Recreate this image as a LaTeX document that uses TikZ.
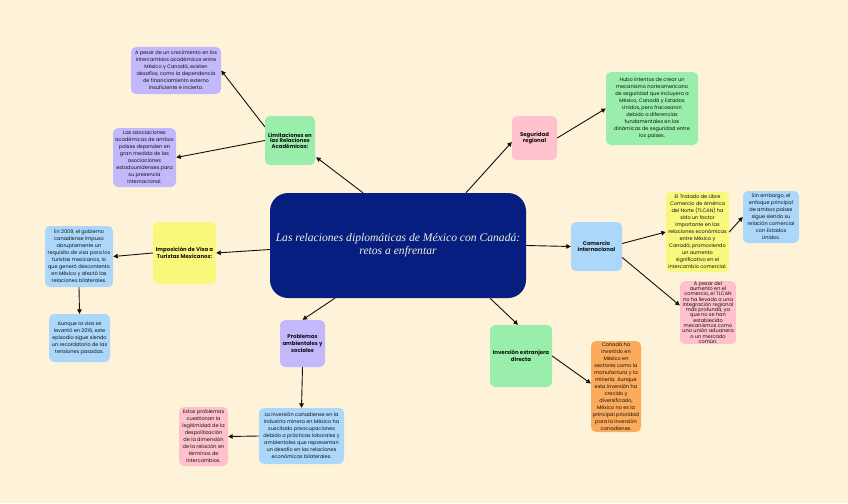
\documentclass[tikz,border=0pt]{standalone}
\usepackage{fontspec}
\newfontfamily\boxfont{Poppins}
\newfontfamily\titlefont{Liberation Serif}
\usetikzlibrary{arrows.meta}
\definecolor{paper}{HTML}{FEF3D8}
\definecolor{ink}{HTML}{111111}
\definecolor{navy}{HTML}{061E80}
\definecolor{cream}{HTML}{F6EFDC}
\definecolor{lilac}{HTML}{C3B8FC}
\definecolor{mint}{HTML}{98EEAA}
\definecolor{rose}{HTML}{FFC2CC}
\definecolor{lemon}{HTML}{F9F87C}
\definecolor{sky}{HTML}{ABD7FB}
\definecolor{peach}{HTML}{FCAA5B}
\tikzset{
  every node/.style={font=\boxfont\fontsize{5}{7}\selectfont, text=ink},
  box/.style={rounded corners=5pt, align=center, inner sep=0pt},
  topic/.style={box, font=\boxfont\bfseries\fontsize{5.4}{5.6}\selectfont},
  lilacbox/.style={box, fill=lilac},
  mintbox/.style={box, fill=mint},
  rosebox/.style={box, fill=rose},
  lemonbox/.style={box, fill=lemon},
  skybox/.style={box, fill=sky},
  peachbox/.style={box, fill=peach},
  arr/.style={-{Triangle[length=4.5pt,width=4.5pt]}, draw=ink, line width=0.9pt},
}

\begin{document}
\begin{tikzpicture}[x=1pt,y=-1pt]
  \fill[paper] (0,0) rectangle (848,503);
  \useasboundingbox (0,0) rectangle (848,503);

  % central topic
  \node[box, fill=navy, rounded corners=18pt, minimum width=256pt, minimum height=105pt,
        font=\titlefont\itshape\fontsize{11.6}{13}\selectfont, text=cream] (central) at (398,245.5)
        {Las relaciones diplomáticas de México con Canadá:\\retos a enfrentar};

  % --- upper left: academic relations ------------------------------------
  \node[topic, fill=mint, minimum width=50pt, minimum height=49pt] (lim) at (290,140.5)
        {Limitaciones en\\las Relaciones\\Académicas:};
  \node[lilacbox, minimum width=90pt, minimum height=47pt] (acadA) at (176,70.5)
        {A pesar de un crecimiento en los\\intercambios académicos entre\\México y Canadá, existen\\desafíos, como la dependencia\\de financiamiento externo\\insuficiente e incierto.};
  \node[lilacbox, minimum width=63pt, minimum height=59pt] (acadB) at (144.5,157.5)
        {Las asociaciones\\académicas de ambos\\países dependen en\\gran medida de las\\asociaciones\\estadounidenses para\\su presencia\\internacional.};

  % --- upper right: security ---------------------------------------------
  \node[topic, fill=rose, minimum width=45pt, minimum height=44pt] (seg) at (534.5,138)
        {Seguridad\\regional};
  \node[mintbox, minimum width=92pt, minimum height=73pt] (secu) at (652,108.5)
        {Hubo intentos de crear un\\mecanismo norteamericano\\de seguridad que incluyera a\\México, Canadá y Estados\\Unidos, pero fracasaron\\debido a diferencias\\fundamentales en las\\dinámicas de seguridad entre\\los países.};

  % --- right: trade --------------------------------------------------------
  \node[topic, fill=sky, minimum width=51pt, minimum height=49pt] (com) at (596.5,246.5)
        {Comercio\\internacional};
  \node[lemonbox, minimum width=63pt, minimum height=80pt] (tlcan) at (697.5,232)
        {El Tratado de Libre\\Comercio de América\\del Norte (TLCAN) ha\\sido un factor\\importante en las\\relaciones económicas\\entre México y\\Canadá, promoviendo\\un aumento\\significativo en el\\intercambio comercial.};
  \node[skybox, minimum width=56pt, minimum height=52pt] (usa) at (771,217)
        {Sin embargo, el\\enfoque principal\\de ambos países\\sigue siendo su\\relación comercial\\con Estados\\Unidos.};
  \node[rosebox, minimum width=56pt, minimum height=63pt, font=\boxfont\fontsize{5}{5.3}\selectfont] (integ) at (708,312.5)
        {A pesar del\\aumento en el\\comercio, el TLCAN\\no ha llevado a una\\integración regional\\más profunda, ya\\que no se han\\establecido\\mecanismos como\\una unión aduanera\\o un mercado\\común.};

  % --- lower right: investment ---------------------------------------------
  \node[topic, fill=mint, minimum width=62pt, minimum height=62pt] (inv) at (521,356)
        {Inversión extranjera\\directa};
  \node[peachbox, minimum width=50pt, minimum height=91pt] (canad) at (616,386.5)
        {Canadá ha\\invertido en\\México en\\sectores como la\\manufactura y la\\minería. Aunque\\esta inversión ha\\crecido y\\diversificado,\\México no es la\\principal prioridad\\para la inversión\\canadiense.};

  % --- bottom: environment -----------------------------------------------
  \node[topic, fill=lilac, minimum width=45pt, minimum height=47pt, font=\boxfont\bfseries\fontsize{5.4}{7}\selectfont] (prob) at (302.5,343.5)
        {Problemas\\ambientales y\\sociales};
  \node[skybox, minimum width=85pt, minimum height=56pt] (mina) at (301.5,436)
        {La inversión canadiense en la\\industria minera en México ha\\suscitado preocupaciones\\debido a prácticas laborales y\\ambientales que representan\\un desafío en las relaciones\\económicas bilaterales.};
  \node[rosebox, minimum width=49pt, minimum height=59pt] (legit) at (203.5,436.5)
        {Estos problemas\\cuestionan la\\legitimidad de la\\despolitización\\de la dimensión\\de la relación en\\términos de\\intercambios.};

  % --- left: visa ------------------------------------------------------------
  \node[topic, fill=lemon, minimum width=63pt, minimum height=62pt] (visa) at (184.5,253)
        {Imposición de Visa a\\Turistas Mexicanos:};
  \node[skybox, minimum width=68pt, minimum height=61pt] (visaA) at (79,256.5)
        {En 2009, el gobierno\\canadiense impuso\\abruptamente un\\requisito de visa para los\\turistas mexicanos, lo\\que generó descontento\\en México y afectó las\\relaciones bilaterales.};
  \node[skybox, minimum width=61pt, minimum height=48pt] (visaB) at (79.5,338)
        {Aunque la visa se\\levantó en 2016, este\\episodio sigue siendo\\un recordatorio de las\\tensiones pasadas.};

  % connectors
  \foreach \u/\v in {central.east/com.west, tlcan.east/usa.west, seg.east/secu.west,
                     prob.south/mina.north, mina.west/legit.east, visa.west/visaA.east,
                     visaA.south/visaB.north, lim.west/acadB.east} {
    \draw[arr] (\u) -- (\v);
  }
  \draw[arr] ([xshift=-35pt]central.north) -- ([xshift=1pt,yshift=8pt]lim.south east);
  \draw[arr] ([yshift=-11pt]lim.north west) -- (acadA.east);
  \draw[arr] ([xshift=68pt]central.north) -- ([yshift=-4pt]seg.west);
  \draw[arr] ([yshift=3pt]com.east) -- (tlcan.west);
  \draw[arr] ([yshift=-11pt]com.east) -- ([yshift=7pt]integ.west);
  \draw[arr] ([xshift=92pt]central.south) -- ([xshift=-3pt]inv.north);
  \draw[arr] (inv.east) -- ([yshift=3pt]canad.west);
  \draw[arr] ([xshift=-63pt]central.south) -- (prob.north);
  \draw[arr] ([yshift=-4pt]central.west) -- (visa.east);
\end{tikzpicture}
\end{document}
